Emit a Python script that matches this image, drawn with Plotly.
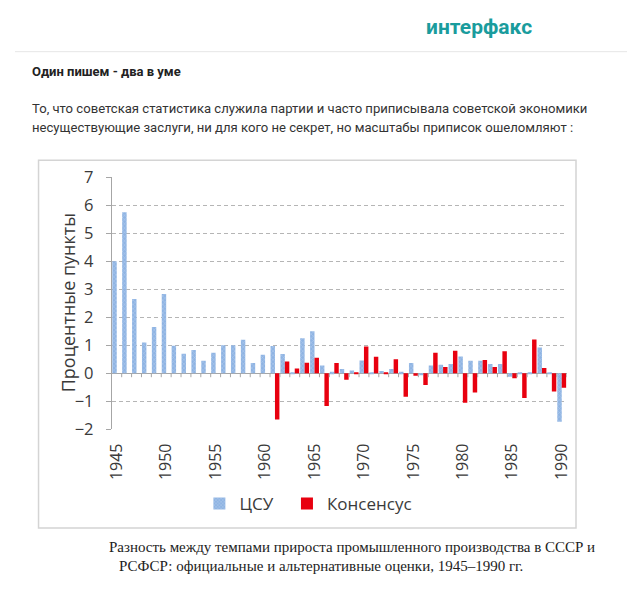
import plotly.graph_objects as go

# the page keeps an 8px body margin (and a few px under the plot div),
# so the figure is drawn smaller and positions below are page pixels of the window
PAD = 8
W, H = 624, 577

years = list(range(1945, 1991))

# ЦСУ (official), percentage points
tsu = [4.0, 5.75, 2.65, 1.1, 1.65, 2.83, 0.98, 0.7, 0.83, 0.45,
       0.73, 1.0, 1.0, 1.2, 0.37, 0.66, 0.97, 0.69, 0.03, 1.25,
       1.5, 0.28, 0.05, 0.15, 0.1, 0.46, 0.02, 0.08, 0.15, 0.05,
       0.37, -0.05, 0.28, 0.3, 0.33, 0.6, 0.45, 0.45, 0.33, 0.33,
       -0.12, 0.03, 0.02, 0.92, 0.02, -1.73]

# Консенсус (alternative estimates), only from 1961
consensus = [None] * 16 + [
    -1.65, 0.42, 0.17, 0.38, 0.55, -1.17, 0.37, -0.23, 0.04, 0.96,
    0.59, 0.02, 0.5, -0.84, -0.09, -0.42, 0.73, 0.22, 0.8, -1.05,
    -0.69, 0.47, 0.22, 0.79, -0.18, -0.88, 1.21, 0.19, -0.65, -0.52]

y_ticks = list(range(-2, 8))
x_ticks = list(range(1945, 1991, 5))

header = "интерфакс"
title = "Один пишем - два в уме"
para = ["То, что советская статистика служила партии и часто приписывала советской экономики",
        "несуществующие заслуги, ни для кого не секрет, но масштабы приписок ошеломляют :"]
caption = ["Разность между темпами прироста промышленного производства в СССР и",
           "РСФСР: официальные и альтернативные оценки, 1945–1990 гг."]


def px(x):
    return (x - PAD) / W


def py(y):
    return 1 - (y - PAD) / H


grey = "#3a3a3a"
chart_font = "Open Sans"

fig = go.Figure()
fig.add_trace(go.Bar(
    x=years, y=tsu, name="ЦСУ\u00a0\u00a0",
    marker=dict(color="#9bbde8", line=dict(width=0),
                pattern=dict(shape="x", bgcolor="#8fb4e3", fgcolor="#d6e4f6",
                             size=3, solidity=0.3))))
fig.add_trace(go.Bar(
    x=years, y=consensus, name="Консенсус",
    marker=dict(color="#e8000f", line=dict(width=0))))

# small tick marks on the zero line between years
shapes = []
for yr in years:
    shapes.append(dict(type="line", xref="x", yref="y", x0=yr + 0.5, x1=yr + 0.5,
                       y0=0, y1=-0.14, line=dict(color="#a6a6a6", width=1)))
# chart frame
shapes.append(dict(type="rect", xref="paper", yref="paper",
                   x0=px(32), x1=px(580), y0=py(537), y1=py(154),
                   line=dict(color="#d4d4d4", width=1.5), layer="below"))
# header separator
shapes.append(dict(type="line", xref="paper", yref="paper",
                   x0=0, x1=1, y0=py(41), y1=py(41),
                   line=dict(color="#e6e6e6", width=1)))


def note(text, x, y, size, family, color, anchor="left", angle=0):
    return dict(text=text, x=px(x), y=py(y), xref="paper", yref="paper",
                xanchor=anchor, yanchor="middle", showarrow=False, textangle=angle,
                font=dict(family=family, size=size, color=color))


annotations = [
    note("<b>" + header + "</b>", 481, 15, 21, "Roboto", "#1a9c9d", anchor="center"),
    note("<b>" + title + "</b>", 23, 62, 13, "Roboto", "#222222"),
    note("Процентные пункты", 62, 302, 18, chart_font, grey, anchor="center", angle=-90),
]
for i, line in enumerate(para):
    annotations.append(note(line, 23, 100 + 20 * i, 13.1, "Roboto", "#333333"))
for i, (line, x0) in enumerate(zip(caption, [102, 112])):
    annotations.append(note(line, x0, 557 + 20 * i, 15, "Liberation Serif", "#222222"))

fig.update_layout(
    width=W, height=H, autosize=False,
    margin=dict(l=0, r=0, t=0, b=0),
    paper_bgcolor="white", plot_bgcolor="white",
    barmode="group", bargap=0.1, bargroupgap=0,
    shapes=shapes, annotations=annotations,
    showlegend=True,
    legend=dict(orientation="h", x=px(196), y=py(512), xanchor="left", yanchor="middle",
                font=dict(family=chart_font, size=17, color=grey),
                itemwidth=30, traceorder="normal"),
    xaxis=dict(domain=[px(106.7), px(570.5)], range=[1944.5, 1990.5],
               tickvals=x_ticks, ticktext=[str(t) for t in x_ticks],
               tickangle=-90, showgrid=False, showline=False, zeroline=False,
               ticks="", ticklabelstandoff=10,
               tickfont=dict(family=chart_font, size=16, color=grey)),
    yaxis=dict(domain=[py(434.3), py(171.7)], range=[-2, 7],
               tickvals=y_ticks, showgrid=True, gridcolor="#b5b5b5", griddash="4px,3px",
               gridwidth=1, zeroline=True, zerolinecolor="#a6a6a6", zerolinewidth=1,
               showline=True, linecolor="#a6a6a6", linewidth=1,
               ticks="outside", ticklen=5, tickcolor="#a6a6a6", ticklabelstandoff=9,
               tickfont=dict(family=chart_font, size=16.5, color=grey)),
)

fig.write_html("out.html", config={"displayModeBar": False})
